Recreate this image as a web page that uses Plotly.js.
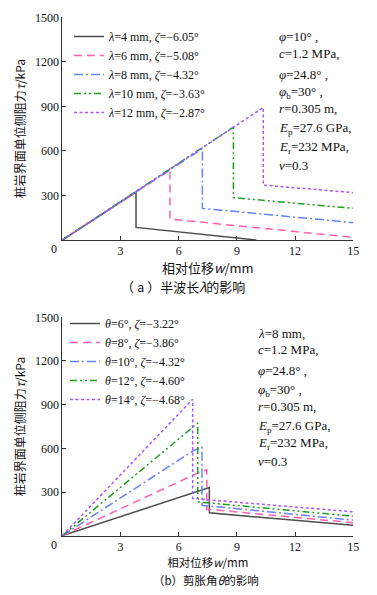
<!DOCTYPE html>
<html>
<head>
<meta charset="utf-8">
<script src="https://cdn.plot.ly/plotly-3.0.1.min.js"></script>
<style>html,body{margin:0;padding:0;background:#fff;}#chart{width:377px;height:595px;}</style>
</head>
<body>
<div id="chart"></div>
<script>
// ---------- data: panel (a), effect of half wavelength lambda ----------
const aNames = ['<i>λ</i>=4 mm, <i>ζ</i>=−6.05°', '<i>λ</i>=6 mm, <i>ζ</i>=−5.08°', '<i>λ</i>=8 mm, <i>ζ</i>=−4.32°', '<i>λ</i>=10 mm, <i>ζ</i>=−3.63°', '<i>λ</i>=12 mm, <i>ζ</i>=−2.87°'];
const aL4x = [0, 3.80, 3.80, 10.0];
const aL4y = [0, 322, 85, 0];
const aL6x = [0, 5.55, 5.55, 15];
const aL6y = [0, 472, 141, 18];
const aL8x = [0, 7.22, 7.22, 15];
const aL8y = [0, 615, 213, 117];
const aL10x = [0, 8.82, 8.82, 15];
const aL10y = [0, 760, 285, 213];
const aL12x = [0, 10.36, 10.36, 15];
const aL12y = [0, 892, 370, 319];

// ---------- data: panel (b), effect of dilation angle theta ----------
const bNames = ['<i>θ</i>=6°, <i>ζ</i>=−3.22°', '<i>θ</i>=8°, <i>ζ</i>=−3.86°', '<i>θ</i>=10°, <i>ζ</i>=−4.32°', '<i>θ</i>=12°, <i>ζ</i>=−4.60°', '<i>θ</i>=14°, <i>ζ</i>=−4.68°'];
const bT6x = [0, 6.74, 7.58, 7.58, 15];
const bT6y = [0, 295, 331, 157, 71];
const bT8x = [0, 6.72, 7.45, 7.45, 15];
const bT8y = [0, 414, 453, 182, 89];
const bT10x = [0, 6.75, 7.20, 7.20, 15];
const bT10y = [0, 584, 608, 209, 107];
const bT12x = [0, 6.84, 6.98, 6.98, 15];
const bT12y = [0, 755, 773, 232, 134];
const bT14x = [0, 6.72, 6.72, 15];
const bT14y = [0, 937, 255, 164];

// ---------- ticks and texts ----------
const xTicks = [3, 6, 9, 12, 15];
const yTicks = [300, 600, 900, 1200, 1500];
const aParams = ['<i>φ</i>=10° ,', '<i>c</i>=1.2 MPa,', '<i>φ</i>=24.8° ,', '<i>φ</i><sub>b</sub>=30° ,', '<i>r</i>=0.305 m,', '<i>E</i><sub>p</sub>=27.6 GPa,', '<i>E</i><sub>r</sub>=232 MPa,', '<i>ν</i>=0.3'];
const bParams = ['<i>λ</i>=8 mm,', '<i>c</i>=1.2 MPa,', '<i>φ</i>=24.8° ,', '<i>φ</i><sub>b</sub>=30° ,', '<i>r</i>=0.305 m,', '<i>E</i><sub>p</sub>=27.6 GPa,', '<i>E</i><sub>r</sub>=232 MPa,', '<i>ν</i>=0.3'];

// ---------- styles ----------
const W = 377, H = 595;
const SERIF = 'Liberation Serif, Times New Roman, serif';
const CJK = 'Noto Sans CJK SC, sans-serif';
const styles = [
  {color: '#4d4d4d', dash: 'solid'},
  {color: '#ff5fae', dash: '8px,5px'},
  {color: '#6680ff', dash: '9px,3px,2px,3px'},
  {color: '#1f9e1f', dash: '7px,3px,2px,3px,2px,3px'},
  {color: '#a855ff', dash: '3px,2.5px'}
];
const px = v => v / W;
const py = v => 1 - v / H;

const aXs = [aL4x, aL6x, aL8x, aL10x, aL12x], aYs = [aL4y, aL6y, aL8y, aL10y, aL12y];
const bXs = [bT6x, bT8x, bT10x, bT12x, bT14x], bYs = [bT6y, bT8y, bT10y, bT12y, bT14y];
const traces = [];
aXs.forEach((xs, i) => traces.push({x: xs, y: aYs[i], name: aNames[i], type: 'scatter', mode: 'lines',
  xaxis: 'x', yaxis: 'y', legend: 'legend', line: {color: styles[i].color, dash: styles[i].dash, width: 1.5}}));
bXs.forEach((xs, i) => traces.push({x: xs, y: bYs[i], name: bNames[i], type: 'scatter', mode: 'lines',
  xaxis: 'x2', yaxis: 'y2', legend: 'legend2', line: {color: styles[i].color, dash: styles[i].dash, width: 1.5}}));

function xax(dom, anchor, title, tsize) {
  return {domain: dom, anchor: anchor, range: [0, 15], tickvals: xTicks, ticks: 'inside', ticklen: 4,
    tickcolor: '#333', showline: true, linecolor: '#333', linewidth: 1, showgrid: false, zeroline: false,
    tickfont: {family: SERIF, size: 12, color: '#111'}, fixedrange: true,
    title: {text: title, font: {family: CJK, size: tsize, color: '#111'}, standoff: 4}};
}
function yax(dom, anchor, title) {
  return {domain: dom, anchor: anchor, range: [0, 1500], tickvals: yTicks, ticks: 'inside', ticklen: 4,
    tickcolor: '#333', showline: true, linecolor: '#333', linewidth: 1, showgrid: false, zeroline: false,
    tickfont: {family: SERIF, size: 12, color: '#111'}, fixedrange: true,
    title: {text: title, font: {family: CJK, size: 12, color: '#111'}, standoff: 6}};
}
const xDom = [px(62.3), px(353.3)];
const ann = [];
const aParamY = [36.7, 53.3, 74, 92.3, 108.3, 128.3, 147.7, 165];
const bParamY = [333.3, 349.3, 370, 390, 406, 426, 443.3, 461.7];
aParams.forEach((t, i) => ann.push({text: t, xref: 'paper', yref: 'paper', x: px(277), y: py(aParamY[i]),
  xanchor: 'left', yanchor: 'middle', showarrow: false, font: {family: SERIF, size: 13, color: '#111'}}));
bParams.forEach((t, i) => ann.push({text: t, xref: 'paper', yref: 'paper', x: px(256), y: py(bParamY[i]),
  xanchor: 'left', yanchor: 'middle', showarrow: false, font: {family: SERIF, size: 13, color: '#111'}}));
ann.push({text: '0', xref: 'paper', yref: 'paper', x: px(54), y: py(249), xanchor: 'center', yanchor: 'middle',
  showarrow: false, font: {family: SERIF, size: 12, color: '#111'}});
ann.push({text: '0', xref: 'paper', yref: 'paper', x: px(54), y: py(545), xanchor: 'center', yanchor: 'middle',
  showarrow: false, font: {family: SERIF, size: 12, color: '#111'}});
ann.push({text: '（ a ）半波长<i>λ</i>的影响', xref: 'paper', yref: 'paper', x: px(183), y: py(286), xanchor: 'center', yanchor: 'middle',
  showarrow: false, font: {family: CJK, size: 13, color: '#111'}});
ann.push({text: '（b）剪胀角<i>θ</i>的影响', xref: 'paper', yref: 'paper', x: px(206), y: py(580), xanchor: 'center', yanchor: 'middle',
  showarrow: false, font: {family: CJK, size: 11.5, color: '#111'}});

const layout = {
  width: W, height: H, margin: {l: 0, r: 0, t: 0, b: 0}, paper_bgcolor: '#fff', plot_bgcolor: '#fff',
  showlegend: true,
  xaxis: xax(xDom, 'y', '相对位移<i>w</i>/mm', 13),
  yaxis: yax([py(240), py(17.3)], 'x', '桩岩界面单位侧阻力<i>τ</i>/kPa'),
  xaxis2: xax(xDom, 'y2', '相对位移<i>w</i>/mm', 11.5),
  yaxis2: yax([py(535.7), py(317.3)], 'x2', '桩岩界面单位侧阻力<i>τ</i>/kPa'),
  legend: {x: px(69), y: py(22), xanchor: 'left', yanchor: 'top', bgcolor: 'rgba(0,0,0,0)', borderwidth: 0,
    font: {family: SERIF, size: 12, color: '#111'}, tracegroupgap: 0},
  legend2: {x: px(65), y: py(309), xanchor: 'left', yanchor: 'top', bgcolor: 'rgba(0,0,0,0)', borderwidth: 0,
    font: {family: SERIF, size: 12, color: '#111'}, tracegroupgap: 0},
  annotations: ann
};
Plotly.newPlot('chart', traces, layout, {displayModeBar: false, staticPlot: true});
</script>
</body>
</html>
